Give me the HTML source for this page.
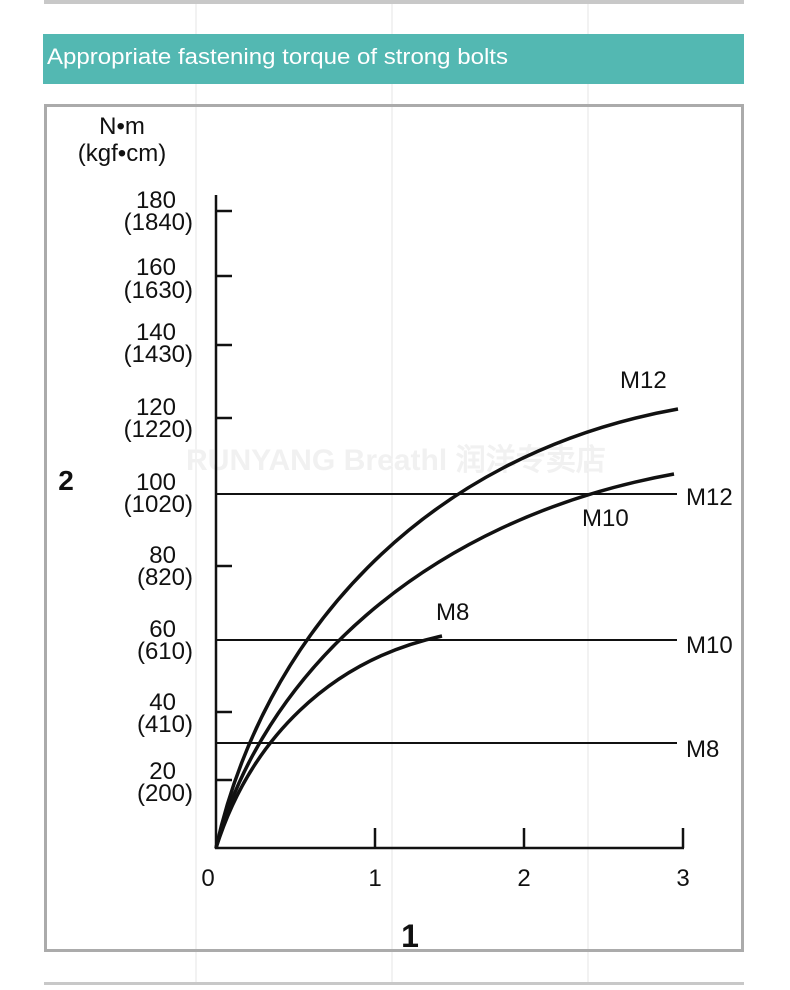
<!DOCTYPE html>
<html><head><style>
body{margin:0;width:790px;height:985px;background:#fff;overflow:hidden;font-family:"Liberation Sans",sans-serif;}
</style></head><body>
<svg width="790" height="985" xmlns="http://www.w3.org/2000/svg" font-family="Liberation Sans, sans-serif">
<rect x="0" y="0" width="790" height="985" fill="#fff"/>
<g stroke="#e6e6e6" stroke-width="1"><line x1="196" y1="0" x2="196" y2="985"/><line x1="392" y1="0" x2="392" y2="985"/><line x1="588" y1="0" x2="588" y2="985"/></g>
<rect x="44" y="0" width="700" height="4" fill="#c8c8c8"/>
<rect x="43" y="34" width="701" height="50" fill="#53b8b2"/>
<text x="47" y="64" font-size="22" fill="#fff" textLength="461" lengthAdjust="spacingAndGlyphs">Appropriate fastening torque of strong bolts</text>
<rect x="45.5" y="105.5" width="697" height="845" fill="none" stroke="#ababab" stroke-width="3"/>
<rect x="44" y="982" width="700" height="3" fill="#c8c8c8"/>
<text x="186" y="470" font-size="30" font-weight="bold" fill="#f1f1f1" textLength="420" lengthAdjust="spacingAndGlyphs">RUNYANG Breathl 润洋专卖店</text>
<g font-size="24" fill="#111" text-anchor="middle">
<text x="122" y="134">N•m</text><text x="122" y="161">(kgf•cm)</text>
<g text-anchor="end">
<text x="176" y="208">180</text><text x="193" y="230">(1840)</text>
<text x="176" y="275">160</text><text x="193" y="298">(1630)</text>
<text x="176" y="340">140</text><text x="193" y="362">(1430)</text>
<text x="176" y="415">120</text><text x="193" y="437">(1220)</text>
<text x="176" y="490">100</text><text x="193" y="512">(1020)</text>
<text x="176" y="563">80</text><text x="193" y="585">(820)</text>
<text x="176" y="637">60</text><text x="193" y="659">(610)</text>
<text x="176" y="710">40</text><text x="193" y="732">(410)</text>
<text x="176" y="779">20</text><text x="193" y="801">(200)</text>
</g>
<text x="208" y="886">0</text><text x="375" y="886">1</text><text x="524" y="886">2</text><text x="683" y="886">3</text>
<text x="66" y="490" font-size="28" font-weight="bold">2</text>
<text x="410" y="947" font-size="32" font-weight="bold">1</text>
</g>
<g font-size="24" fill="#111">
<text x="620" y="388">M12</text><text x="582" y="526">M10</text><text x="436" y="620">M8</text>
<text x="686" y="505">M12</text><text x="686" y="653">M10</text><text x="686" y="757">M8</text>
</g>
<g stroke="#111" stroke-width="2.5" fill="none">
<line x1="216" y1="195" x2="216" y2="849"/>
<line x1="215" y1="848" x2="684" y2="848"/>
<line x1="375" y1="828" x2="375" y2="848"/><line x1="524" y1="828" x2="524" y2="848"/><line x1="683" y1="828" x2="683" y2="848"/>
<line x1="216" y1="211" x2="232" y2="211"/><line x1="216" y1="276" x2="232" y2="276"/><line x1="216" y1="345" x2="232" y2="345"/>
<line x1="216" y1="418" x2="232" y2="418"/><line x1="216" y1="566" x2="232" y2="566"/><line x1="216" y1="712" x2="232" y2="712"/><line x1="216" y1="780" x2="232" y2="780"/>
</g>
<g stroke="#111" stroke-width="2" fill="none">
<line x1="216" y1="494" x2="677" y2="494"/><line x1="216" y1="640" x2="677" y2="640"/><line x1="216" y1="743" x2="677" y2="743"/>
</g>
<g stroke="#111" stroke-width="3.5" fill="none">
<path d="M216,848 C262,640 420,455 678,409"/>
<path d="M216,848 C260,680 420,520 674,474"/>
<path d="M216,848 C250,740 330,660 442,636"/>
</g>
</svg>
</body></html>
